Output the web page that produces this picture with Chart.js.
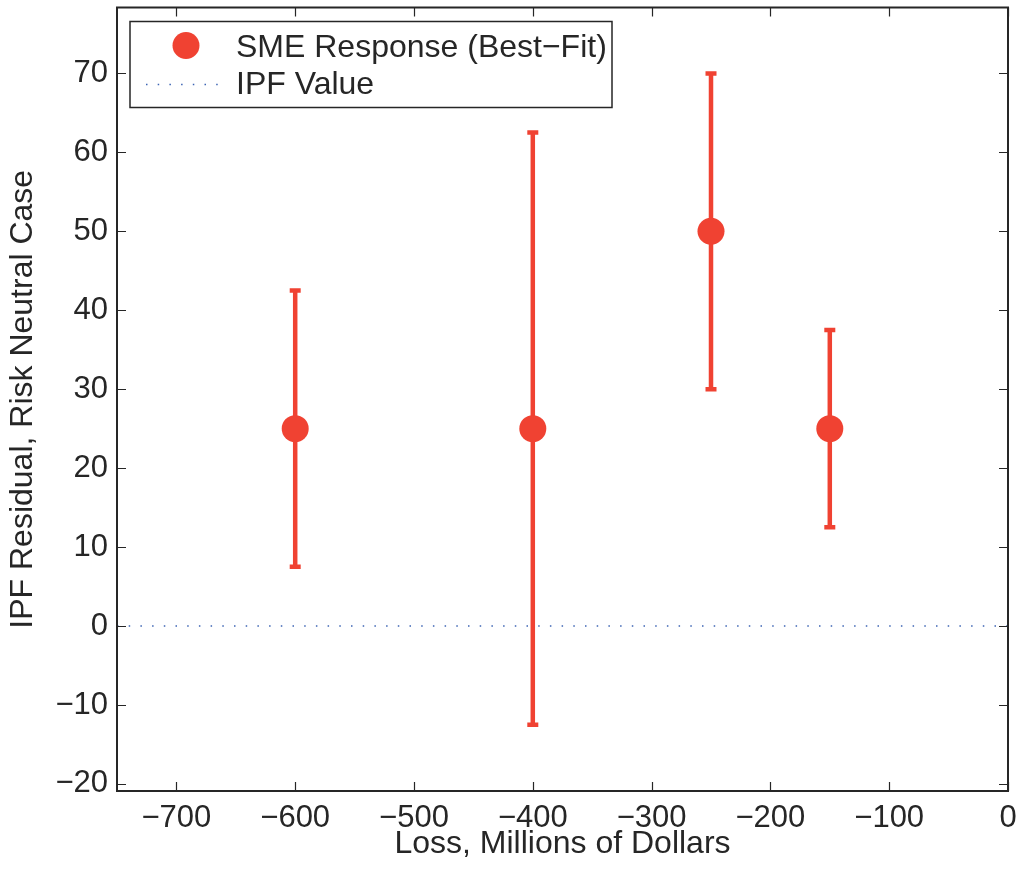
<!DOCTYPE html>
<html>
<head>
<meta charset="utf-8">
<script src="https://cdn.jsdelivr.net/npm/chart.js@4/dist/chart.umd.min.js"></script>
<style>
  html, body { margin: 0; padding: 0; background: #fff; overflow: hidden; }
  #wrap { width: 1023px; height: 877px; position: relative; top: -6px; }
</style>
</head>
<body>
<div id="wrap"><canvas id="chart"></canvas></div>
<script>
// values
const lossValues = [-600, -400, -250, -150];
const bestFit = [25, 25, 50, 25];
const lowerBound = [7.5, -12.5, 30, 12.5];
const upperBound = [42.5, 62.5, 70, 37.5];
const ipfValue = 0;

const xTicks = [-700, -600, -500, -400, -300, -200, -100, 0];
const yTicks = [-20, -10, 0, 10, 20, 30, 40, 50, 60, 70];
const xLimits = [-750, 0];
const yLimits = [-20.9, 78.35];

const red = 'rgb(240, 66, 50)';
const ink = '#262626';
const fontFamily = '"Liberation Sans", Arial, Helvetica, sans-serif';

const minusFmt = (v) => String(v).replace('-', '\u2212');

// error bars under the markers
const errorBars = {
  id: 'errorBars',
  beforeDatasetsDraw(chart) {
    const { ctx, scales: { x, y } } = chart;
    ctx.save();
    ctx.strokeStyle = red;
    ctx.lineWidth = 4.5;
    ctx.lineCap = 'butt';
    lossValues.forEach((v, i) => {
      const px = x.getPixelForValue(v);
      const top = y.getPixelForValue(upperBound[i]);
      const bot = y.getPixelForValue(lowerBound[i]);
      ctx.beginPath();
      ctx.moveTo(px, top);
      ctx.lineTo(px, bot);
      ctx.moveTo(px - 5.5, top);
      ctx.lineTo(px + 5.5, top);
      ctx.moveTo(px - 5.5, bot);
      ctx.lineTo(px + 5.5, bot);
      ctx.stroke();
    });
    ctx.restore();
  }
};

// matlab style box with inward ticks + legend
const boxAndLegend = {
  id: 'boxAndLegend',
  afterDatasetsDraw(chart) {
    const { ctx, chartArea: a, scales: { x, y } } = chart;
    ctx.save();
    ctx.strokeStyle = ink;
    ctx.lineWidth = 1.2;
    const tl = 9;
    ctx.beginPath();
    xTicks.forEach((t) => {
      const px = Math.round(x.getPixelForValue(t)) + 0.5;
      ctx.moveTo(px, a.bottom); ctx.lineTo(px, a.bottom - tl);
      ctx.moveTo(px, a.top); ctx.lineTo(px, a.top + tl);
    });
    yTicks.forEach((t) => {
      const py = Math.round(y.getPixelForValue(t)) + 0.5;
      ctx.moveTo(a.left, py); ctx.lineTo(a.left + tl, py);
      ctx.moveTo(a.right, py); ctx.lineTo(a.right - tl, py);
    });
    ctx.stroke();
    ctx.lineWidth = 2;
    ctx.strokeRect(a.left, a.top, a.right - a.left, a.bottom - a.top);

    // legend (offset from the top of the plot box)
    const lx = a.left + 13, ly = a.top + 14, lw = 482, lh = 86;
    ctx.fillStyle = '#fff';
    ctx.fillRect(lx, ly, lw, lh);
    ctx.lineWidth = 1.5;
    ctx.strokeRect(lx, ly, lw, lh);

    ctx.fillStyle = red;
    ctx.beginPath();
    ctx.arc(lx + 56, ly + 24, 13.5, 0, Math.PI * 2);
    ctx.fill();

    ctx.strokeStyle = 'rgb(60, 100, 180)';
    ctx.lineWidth = 1.5;
    ctx.setLineDash([1.5, 10.2]);
    ctx.beginPath();
    ctx.moveTo(lx + 16, ly + 63);
    ctx.lineTo(lx + 92, ly + 63);
    ctx.stroke();
    ctx.setLineDash([]);

    ctx.fillStyle = ink;
    ctx.font = '32px ' + fontFamily;
    ctx.textBaseline = 'alphabetic';
    ctx.textAlign = 'left';
    const ds = chart.data.datasets;
    ctx.fillText(ds[0].label, lx + 106, ly + 35);
    ctx.fillText(ds[1].label, lx + 106, ly + 72);
    ctx.restore();
  }
};

new Chart(document.getElementById('chart'), {
  type: 'scatter',
  data: {
    datasets: [
      {
        label: 'SME Response (Best\u2212Fit)',
        data: lossValues.map((v, i) => ({ x: v, y: bestFit[i] })),
        backgroundColor: red,
        borderColor: red,
        pointRadius: 13.5,
        pointHoverRadius: 13.5,
        borderWidth: 0
      },
      {
        label: 'IPF Value',
        type: 'line',
        data: xLimits.map((v) => ({ x: v, y: ipfValue })),
        borderColor: 'rgb(60, 100, 180)',
        borderWidth: 1.5,
        borderDash: [1.5, 10.2],
        pointRadius: 0,
        fill: false
      }
    ]
  },
  options: {
    responsive: true,
    maintainAspectRatio: false,
    animation: false,
    layout: { padding: { top: 0, right: 15, left: 0, bottom: 0 } },
    plugins: {
      legend: { display: false },
      tooltip: { enabled: false }
    },
    scales: {
      x: {
        type: 'linear',
        min: xLimits[0],
        max: xLimits[1],
        grid: { display: false, drawTicks: false },
        border: { display: false },
        afterBuildTicks: (s) => { s.ticks = xTicks.map((v) => ({ value: v })); },
        afterFit: (s) => { s.height = 80; s.paddingLeft = 0; s.paddingRight = 0; },
        ticks: {
          color: ink,
          padding: 9,
          autoSkip: false,
          maxRotation: 0,
          font: { family: fontFamily, size: 31 },
          callback: minusFmt
        },
        title: {
          display: true,
          text: 'Loss, Millions of Dollars',
          color: ink,
          padding: { top: 0, bottom: 8 },
          font: { family: fontFamily, size: 32 }
        }
      },
      y: {
        type: 'linear',
        min: yLimits[0],
        max: yLimits[1],
        grid: { display: false, drawTicks: false },
        border: { display: false },
        afterBuildTicks: (s) => { s.ticks = yTicks.map((v) => ({ value: v })); },
        afterFit: (s) => { s.width = 117; s.paddingTop = 0; s.paddingBottom = 0; },
        ticks: {
          color: ink,
          padding: 9,
          autoSkip: false,
          font: { family: fontFamily, size: 31 },
          callback: minusFmt
        },
        title: {
          display: true,
          text: 'IPF Residual, Risk Neutral Case',
          color: ink,
          padding: { top: 4, bottom: 0 },
          font: { family: fontFamily, size: 32 }
        }
      }
    }
  },
  plugins: [errorBars, boxAndLegend]
});
</script>
</body>
</html>
